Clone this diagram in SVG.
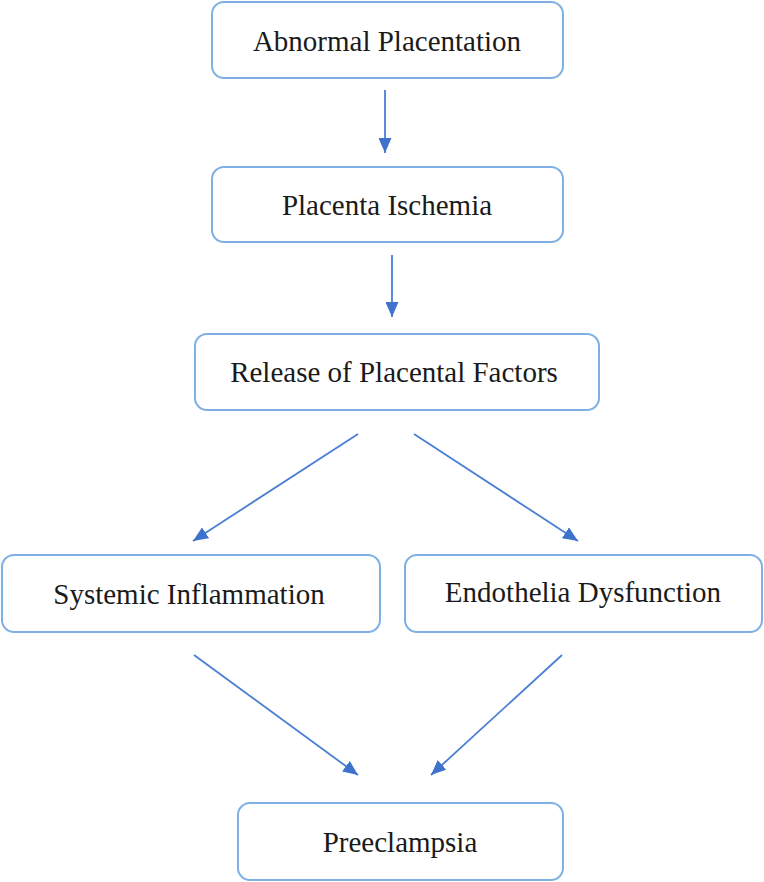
<svg xmlns="http://www.w3.org/2000/svg" width="764" height="882" viewBox="0 0 764 882">
<style>
.box{fill:#fff;stroke:#7eb0e4;stroke-width:2}
.lbl{font-size:29px;fill:#1a1a1a;text-anchor:middle}
.edge{stroke:#4a7fd4;stroke-width:1.8;fill:none;marker-end:url(#ah)}
</style>
<defs>
<marker id="ah" viewBox="0 0 10 10" refX="10" refY="5" markerWidth="15" markerHeight="13" markerUnits="userSpaceOnUse" orient="auto" preserveAspectRatio="none">
<path d="M0,0 L10,5 L0,10 z" fill="#3f72cc"/>
</marker>
</defs>
<rect width="764" height="882" fill="#fff"/>
<g id="connectors">
<line class="edge" x1="385" y1="90" x2="385" y2="153"/>
<line class="edge" x1="392" y1="255" x2="392" y2="317"/>
<line class="edge" x1="358" y1="434" x2="193" y2="541"/>
<line class="edge" x1="414" y1="434" x2="578" y2="541"/>
<line class="edge" x1="194" y1="655" x2="358" y2="775"/>
<line class="edge" x1="562" y1="655" x2="431" y2="775"/>
</g>
<g id="n1"><rect class="box" x="212" y="2" width="351" height="76" rx="12"/><text class="lbl" font-family="'Liberation Serif', 'DejaVu Serif', serif" x="387" y="51">Abnormal Placentation</text></g>
<g id="n2"><rect class="box" x="212" y="167" width="351" height="75" rx="12"/><text class="lbl" font-family="'Liberation Serif', 'DejaVu Serif', serif" x="387" y="215">Placenta Ischemia</text></g>
<g id="n3"><rect class="box" x="195" y="334" width="404" height="76" rx="12"/><text class="lbl" font-family="'Liberation Serif', 'DejaVu Serif', serif" x="394" y="382">Release of Placental Factors</text></g>
<g id="n4"><rect class="box" x="2" y="555" width="378" height="77" rx="12"/><text class="lbl" font-family="'Liberation Serif', 'DejaVu Serif', serif" x="189" y="604">Systemic Inflammation</text></g>
<g id="n5"><rect class="box" x="405" y="555" width="357" height="77" rx="12"/><text class="lbl" font-family="'Liberation Serif', 'DejaVu Serif', serif" x="583" y="602">Endothelia Dysfunction</text></g>
<g id="n6"><rect class="box" x="238" y="803" width="325" height="77" rx="12"/><text class="lbl" font-family="'Liberation Serif', 'DejaVu Serif', serif" x="400" y="852">Preeclampsia</text></g>
</svg>
